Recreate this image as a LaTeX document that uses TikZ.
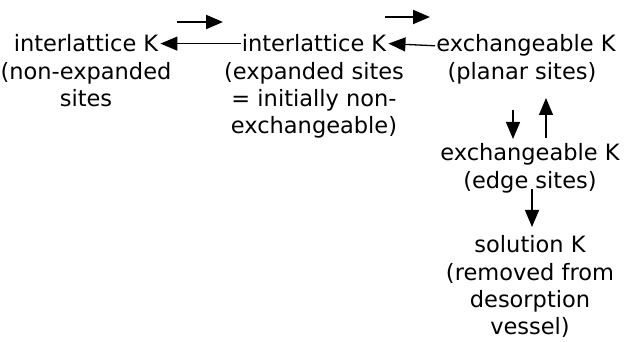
\documentclass[tikz,border=0pt]{standalone}
\usepackage{fontspec}
\setmainfont{DejaVu Sans}
\usetikzlibrary{arrows.meta}
\begin{document}
\begin{tikzpicture}[x=1pt,y=1pt,
  lbl/.style={inner sep=0pt, font=\fontsize{22.5}{27}\selectfont, align=center},
  arr/.style={line width=1.3pt, -{Triangle[length=17pt,width=14pt]}},
  toparr/.style={arr, line width=2pt}]
\useasboundingbox (0,0) rectangle (625,-342);
% headlines
\node[lbl, anchor=base] (h1) at (86,-52) {interlattice K};
\node[lbl, anchor=base] (h2) at (314,-52) {interlattice K};
\node[lbl, anchor=base] (h3) at (526,-52) {exchangeable K};
\node[lbl, anchor=base] (h4) at (530,-161) {exchangeable K};
\node[lbl, anchor=base] (h5) at (530,-253) {solution K};
% subtitles
\node[lbl, anchor=north] (s1) at (86,-62) {(non-expanded\\sites};
\node[lbl, anchor=north] (s2) at (314,-62) {(expanded sites\\= initially non-\\exchangeable)};
\node[lbl, anchor=north] (s3) at (522,-62) {(planar sites)};
\node[lbl, anchor=north] (s4) at (530,-171) {(edge sites)};
\node[lbl, anchor=north] (s5) at (530,-263) {(removed from\\desorption\\vessel)};
% horizontal arrows
\draw[arr] ([xshift=-1pt]h2.west) -- ([xshift=2pt]h1.east);
\draw[arr] ([xshift=-1pt]h3.west) -- ([xshift=2pt]h2.east);
\coordinate (t1a) at (177,-22);
\coordinate (t1b) at (223,-22);
\coordinate (t2a) at (385,-17);
\coordinate (t2b) at (430,-17);
\draw[toparr] (t1a) -- (t1b);
\draw[toparr] (t2a) -- (t2b);
% vertical arrows
\coordinate (d1a) at (513,-110);
\coordinate (d1b) at (513,-139);
\coordinate (u1a) at (546,-138);
\coordinate (u1b) at (546,-98);
\coordinate (d2a) at (532,-189);
\coordinate (d2b) at (532,-227);
\draw[arr] (d1a) -- (d1b);
\draw[arr] (u1a) -- (u1b);
\draw[arr] (d2a) -- (d2b);
\end{tikzpicture}
\end{document}
